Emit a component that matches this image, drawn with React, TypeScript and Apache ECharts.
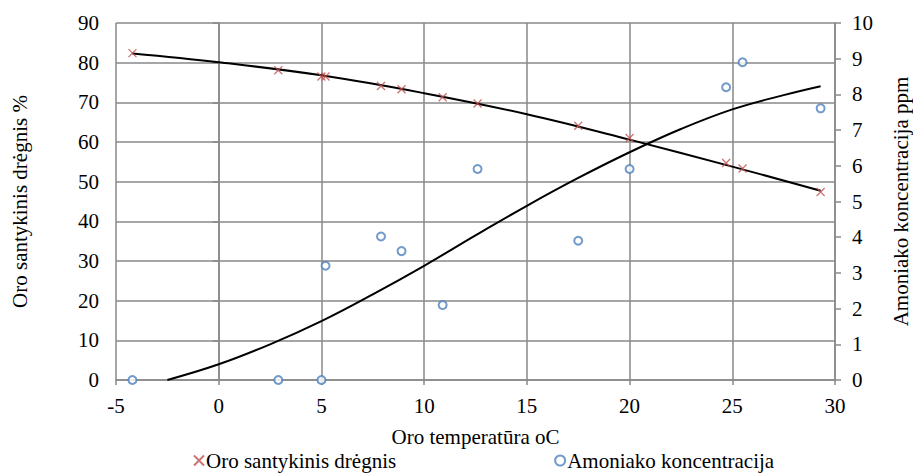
import React, { useEffect, useRef } from "react";
import * as echarts from "echarts";

// Humidity (Oro santykinis drėgnis %) scatter points [temperature, %]
const humidityPoints: [number, number][] = [
  [-4.2, 82.4], [2.9, 78.1], [5.0, 76.5], [5.2, 76.5], [7.9, 74.1], [8.9, 73.3],
  [10.9, 71.3], [12.6, 69.7], [17.5, 64.1], [20.0, 61.0], [24.7, 54.7], [25.5, 53.3], [29.3, 47.4],
];
// Ammonia (Amoniako koncentracija ppm) scatter points [temperature, ppm]
const ammoniaPoints: [number, number][] = [
  [-4.2, 0], [2.9, 0], [5.0, 0], [5.2, 3.2], [7.9, 4.02], [8.9, 3.61], [10.9, 2.1],
  [12.6, 5.91], [17.5, 3.9], [20.0, 5.91], [24.7, 8.2], [25.5, 8.9], [29.3, 7.61],
];
// Trendline points
const humidityTrend: [number, number][] = [
  [-4.2, 82.3], [0, 80.1], [5, 76.8], [10, 72.3], [15, 67.0], [20, 60.6], [25, 53.8], [29.3, 47.7],
];
const ammoniaTrend: [number, number][] = [
  [-2.5, 0], [0, 0.44], [2.5, 1.0], [5, 1.65], [7.5, 2.4], [10, 3.2], [12.5, 4.05],
  [15, 4.88], [17.5, 5.66], [20, 6.38], [22.5, 7.03], [25, 7.58], [27.5, 7.98], [29.3, 8.23],
];

const xTitle = "Oro temperatūra oC";
const yLeftTitle = "Oro santykinis drėgnis %";
const yRightTitle = "Amoniako koncentracija ppm";
const seriesNames = ["Oro santykinis drėgnis", "Amoniako koncentracija"];

const FONT = "Times New Roman";
const FS = 21;
const GRID = "#898989";

export default function App() {
  const ref = useRef<HTMLDivElement>(null);
  useEffect(() => {
    if (!ref.current) return;
    const chart = echarts.init(ref.current, undefined, { renderer: "svg" });
    const label = { fontFamily: FONT, fontSize: FS, color: "#000" };
    chart.setOption({
      animation: false,
      backgroundColor: "#fff",
      textStyle: { fontFamily: FONT },
      grid: { left: 116, right: 78, top: 23, bottom: 95, containLabel: false, outerBoundsMode: "none" },
      legend: {
        data: seriesNames,
        left: 193,
        top: 450,
        padding: 0,
        itemGap: 158,
        itemWidth: 10,
        itemHeight: 10,
        textStyle: { ...label, padding: [0, 0, 0, -3] },
      },
      xAxis: {
        type: "value",
        min: -5,
        max: 30,
        interval: 5,
        name: xTitle,
        nameLocation: "middle",
        nameGap: 46,
        nameTextStyle: label,
        axisLine: { show: true, lineStyle: { color: GRID, width: 1.5 } },
        axisTick: { show: true, length: 5, lineStyle: { color: GRID, width: 1.5 } },
        axisLabel: { ...label, margin: 15 },
        splitLine: { show: true, lineStyle: { color: GRID, width: 1.5 } },
      },
      yAxis: [
        {
          type: "value",
          min: 0,
          max: 90,
          interval: 10,
          name: yLeftTitle,
          nameLocation: "middle",
          nameGap: 86,
          nameTextStyle: label,
          axisLine: { show: true, lineStyle: { color: GRID, width: 1.5 } },
          axisTick: { show: true, length: 6, lineStyle: { color: GRID, width: 1.5 } },
          axisLabel: { ...label, margin: 17 },
          splitLine: { show: true, lineStyle: { color: GRID, width: 1.5 } },
        },
        {
          type: "value",
          min: 0,
          max: 10,
          interval: 1,
          position: "right",
          name: yRightTitle,
          nameLocation: "middle",
          nameGap: 56,
          nameRotate: 90,
          nameTextStyle: { ...label, lineHeight: 19 },
          axisLine: { show: true, lineStyle: { color: GRID, width: 1.5 } },
          axisTick: { show: true, length: 6, lineStyle: { color: GRID, width: 1.5 } },
          axisLabel: { ...label, margin: 17 },
          splitLine: { show: false },
        },
      ],
      series: [
        {
          name: seriesNames[0],
          type: "scatter",
          yAxisIndex: 0,
          data: humidityPoints,
          symbol: "path://M0,0L10,10M10,0L0,10",
          symbolSize: 8,
          itemStyle: { color: "rgba(0,0,0,0)", borderColor: "#C0504D", borderWidth: 1.3 },
          z: 5,
        },
        {
          name: seriesNames[1],
          type: "scatter",
          yAxisIndex: 1,
          data: ammoniaPoints,
          symbol: "circle",
          symbolSize: 8,
          itemStyle: { color: "#fff", borderColor: "#4F81BD", borderWidth: 2 },
          z: 5,
        },
        {
          name: "trend1",
          type: "line",
          yAxisIndex: 0,
          data: humidityTrend,
          smooth: 0.4,
          showSymbol: false,
          lineStyle: { color: "#000", width: 2 },
          z: 4,
        },
        {
          name: "trend2",
          type: "line",
          yAxisIndex: 1,
          data: ammoniaTrend,
          smooth: 0.4,
          showSymbol: false,
          lineStyle: { color: "#000", width: 2 },
          z: 4,
        },
      ],
    });
    return () => chart.dispose();
  }, []);
  return <div ref={ref} style={{ width: 913, height: 475, position: "absolute", left: 0, top: 0 }} />;
}
